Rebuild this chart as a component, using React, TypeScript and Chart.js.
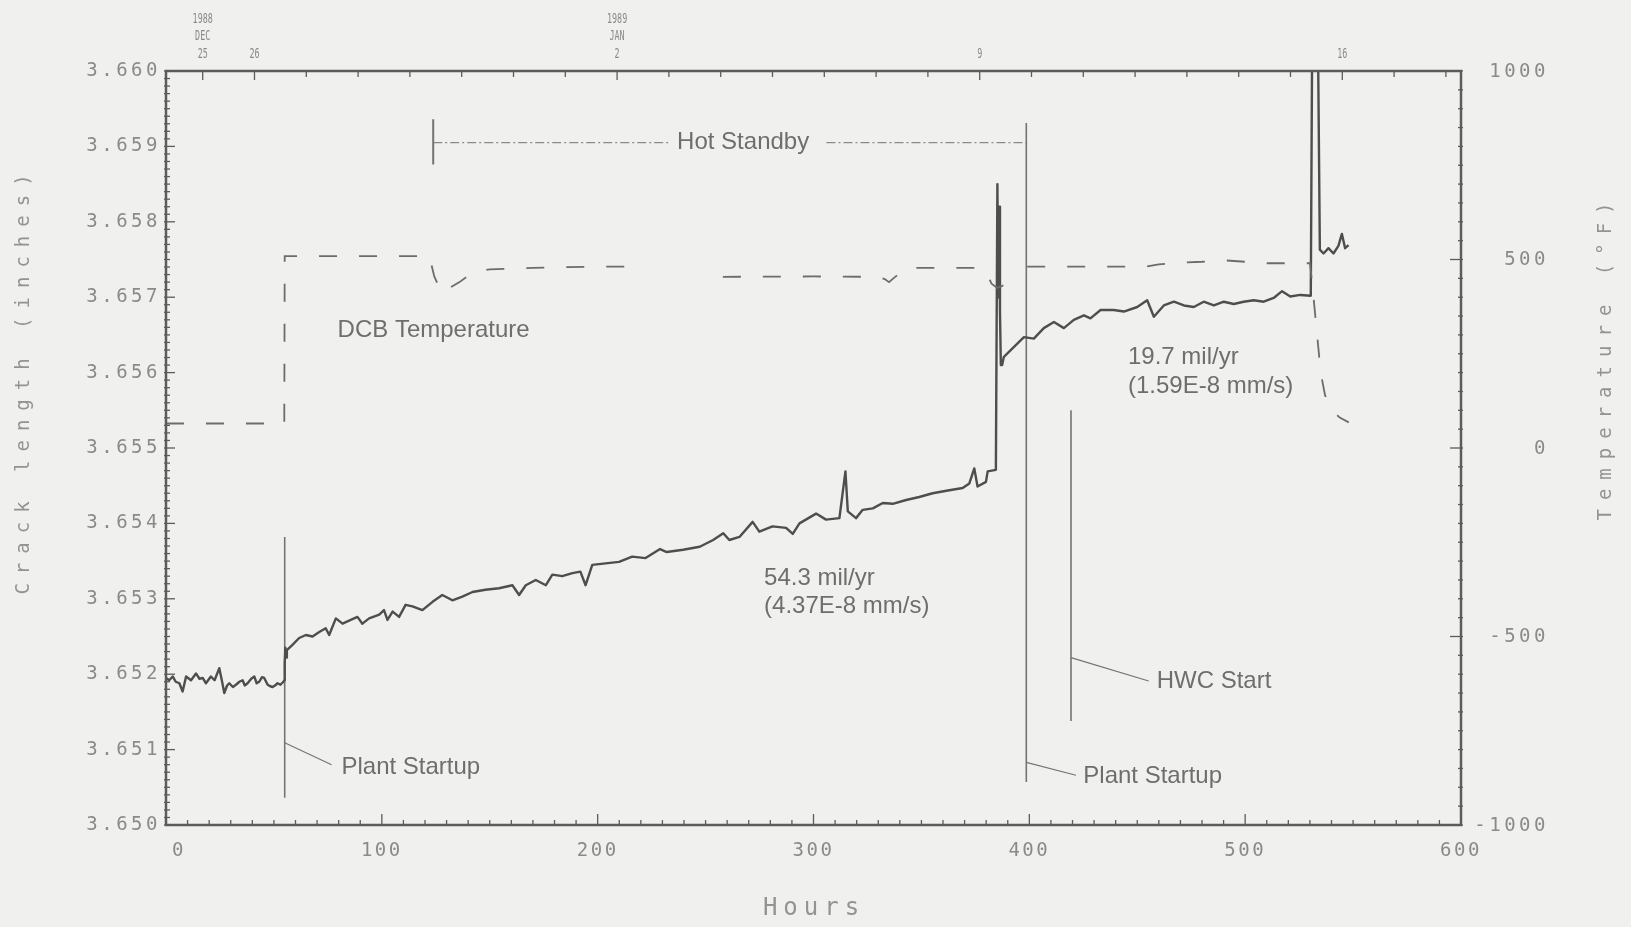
import { useEffect, useRef } from "react";
import { Chart, registerables } from "chart.js";
Chart.register(...registerables);

// ---------------- data ----------------
const crackHours = [
  0, 1.5, 3.1, 4.5, 6.2, 7.7, 9.3, 11.6, 13.9, 15.5, 17, 18.5, 20.8, 22.5, 24.7, 26, 27, 28.3, 29.3, 31,
  32.4, 34, 35.5, 36.5, 37.8, 39.5, 40.9, 42, 43.2, 44.5, 45.5, 47.1, 48.3, 49.4, 50.5, 51.7, 53, 54.4, 54.8,
  55, 55.3, 55.6, 56, 58.6, 61.7, 64.8, 67.9, 71, 74, 75.6, 78.7, 81.8, 85.6, 88.7, 91, 94.1, 98.8, 101,
  102.6, 105, 108, 111, 114.2, 118.8, 123.5, 128, 132.7, 137.3, 142, 148, 154.3, 160.5, 163.6, 166.7, 171.3,
  176, 179, 183.6, 188.3, 192, 194.4, 197.5, 203.7, 209.9, 216, 222.2, 228.9, 232, 239.6, 247.3, 253.5,
  258.2, 261, 265.7, 271.8, 274.9, 281, 287.3, 290.4, 293.5, 301.2, 305.8, 312, 314.8, 315.9, 319.7, 322.8,
  327.5, 332.1, 336.7, 342.9, 349, 355.2, 362.9, 369.1, 372.2, 374.5, 376, 379.9, 380.7, 384.5, 385.2,
  385.6, 386, 386.4, 386.8, 387.4, 388.2, 392.9, 397.5, 402.1, 406.7, 411.4, 416, 420.6, 425.3, 428.3, 433,
  439.1, 443.8, 450, 454.6, 457.7, 462.3, 467, 471.6, 476.2, 480.8, 485.5, 490.1, 494.7, 499.3, 504, 508.6,
  513.2, 517.1, 520.9, 525.5, 530.4, 531.0, 533.8, 534.6, 536.3, 538.6, 540.9, 543.2, 544.8, 546.3, 547.9,
];
const crackInches = [
  3.65195, 3.65192, 3.65197, 3.6519, 3.65188, 3.65177, 3.65197, 3.65192, 3.65201, 3.65194, 3.65195, 3.65188,
  3.65197, 3.65192, 3.65208, 3.6519, 3.65175, 3.65185, 3.65188, 3.65183, 3.65186, 3.6519, 3.65192, 3.65185,
  3.65188, 3.65194, 3.65197, 3.65188, 3.6519, 3.65196, 3.65195, 3.65186, 3.65184, 3.65183, 3.65185, 3.65188,
  3.65186, 3.6519, 3.65192,
  3.65215, 3.65235, 3.65222, 3.65232, 3.65239, 3.65248, 3.65252, 3.6525, 3.65256, 3.65261, 3.65252, 3.65274,
  3.65267, 3.65272, 3.65276, 3.65267, 3.65274, 3.65279, 3.65285, 3.65272, 3.65283, 3.65276, 3.65292, 3.6529,
  3.65285, 3.65296, 3.65305, 3.65298, 3.65303, 3.65309, 3.65312, 3.65314, 3.65318, 3.65305, 3.65318, 3.65325,
  3.65318, 3.65332, 3.6533, 3.65334, 3.65336, 3.65318, 3.65345, 3.65347, 3.65349, 3.65356, 3.65354, 3.65366,
  3.65362, 3.65365, 3.65369, 3.65378, 3.65387, 3.65378, 3.65382, 3.65402, 3.65389, 3.65396, 3.65394, 3.65386,
  3.654, 3.65413, 3.65405, 3.65407, 3.65469, 3.65416, 3.65407, 3.65418, 3.6542, 3.65427, 3.65426, 3.65431,
  3.65435, 3.6544, 3.65444, 3.65447, 3.65453, 3.65473, 3.65449, 3.65455, 3.65469, 3.65471, 3.6585, 3.657,
  3.6582, 3.6568, 3.6561, 3.6561, 3.65621, 3.65634, 3.65647, 3.65645, 3.65659, 3.65667, 3.65659, 3.6567,
  3.65676, 3.65672, 3.65683, 3.65683, 3.65681, 3.65687, 3.65696, 3.65674, 3.65689, 3.65694, 3.65689, 3.65687,
  3.65694, 3.65689, 3.65694, 3.65691, 3.65694, 3.65696, 3.65694, 3.65699, 3.65708, 3.65701, 3.65703, 3.65702,
  3.6602, 3.6602, 3.65763, 3.65758, 3.65765, 3.65758, 3.65768, 3.65784, 3.65765, 3.65769,
];

const tempHours = [
  0, 54.8, 55, 122, 124.3, 127.7, 130, 136, 142, 150, 170, 200, 218, 230, 258, 300, 330, 333, 335, 337, 343,
  378, 380, 382.5, 385, 387.5, 390, 392, 395, 399, 440, 454, 460, 470, 480, 490, 500, 510, 525, 530, 531,
  533, 535, 537, 540, 544, 548,
];
const tempDegF = [
  65, 65, 509, 509, 455, 412, 420, 440, 465, 474, 478, 481, 481, null, 454, 455, 454, 448, 440, 450, 478,
  478, 466, 436, 425, 430, 445, 454, null, 481, 481, 481, 487, 492, 494, 498, 494, 490, 490, 490, 440,
  320, 200, 140, 100, 80, 68,
];

// event marker lines (hours, inches)
const plantStartup1Hours = [55, 55];
const plantStartup1Inches = [3.65036, 3.65382];
const plantStartup1LeaderHours = [55, 76.7];
const plantStartup1LeaderInches = [3.65109, 3.6508];
const plantStartup2Hours = [398.6, 398.6];
const plantStartup2Inches = [3.65057, 3.65931];
const plantStartup2LeaderHours = [398.6, 421.6];
const plantStartup2LeaderInches = [3.65083, 3.65066];
const hwcHours = [419.3, 419.3];
const hwcInches = [3.65138, 3.6555];
const hwcLeaderHours = [419.3, 455.3];
const hwcLeaderInches = [3.65222, 3.65191];
const hotStandbyTickHours = [123.8, 123.8];
const hotStandbyTickInches = [3.65876, 3.65936];
const hotStandbyHours = [123.8, 233.7, 250, 306, 398.6];
const hotStandbyInches = [3.65905, 3.65905, null, 3.65905, 3.65905];

// annotation texts
const noteTexts = [
  "DCB Temperature", "Plant Startup", "Plant Startup", "HWC Start", "Hot Standby",
  "54.3 mil/yr", "(4.37E-8 mm/s)", "19.7 mil/yr", "(1.59E-8 mm/s)",
];
const noteHours = [79.5, 81.3, 425, 459, 267.4, 277.1, 277.1, 445.7, 445.7];
const noteInches = [3.65656, 3.65077, 3.65064, 3.65191, 3.65905, 3.65327, 3.6529, 3.6562, 3.65582];
const noteAlign = ["left", "left", "left", "left", "center", "left", "left", "left", "left"];

// axes ticks / labels
const leftTickValues = [3.65, 3.651, 3.652, 3.653, 3.654, 3.655, 3.656, 3.657, 3.658, 3.659, 3.66];
const leftTickLabels = ["3.650", "3.651", "3.652", "3.653", "3.654", "3.655", "3.656", "3.657", "3.658", "3.659", "3.660"];
const rightTickValues = [-1000, -500, 0, 500, 1000];
const rightTickLabels = ["-1000", "-500", "0", "500", "1000"];
const bottomTickValues = [0, 100, 200, 300, 400, 500, 600];
const bottomTickLabels = ["0", "100", "200", "300", "400", "500", "600"];
const topDayHours = [17, 41, 65, 89, 113, 137, 161, 185, 209, 233, 257, 281, 305, 329, 353, 377, 401, 425, 449, 473, 497, 521, 545, 569, 593];
const topLabelHours = [17, 41, 209, 377, 545];
const topLabelLines = [["1988", "DEC", "25"], ["26"], ["1989", "JAN", "2"], ["9"], ["16"]];

const xTitle = "Hours";
const yTitle = "Crack length (inches)";
const y2Title = "Temperature (°F)";

// ---------------- styles ----------------
const BG = "#f0f0ee";
const AXIS = "#5c5c5c";
const LABEL = "#8a8a8a";
const NOTE = "#6e6e6e";
const MONO = '"DejaVu Sans Mono", monospace';
const SANS = '"Liberation Sans", Arial, sans-serif';

const pts = (xs: number[], ys: (number | null)[]) => xs.map((x, i) => ({ x, y: ys[i] }));

const markerDs = (xs: number[], ys: (number | null)[], extra: any = {}) => ({
  data: pts(xs, ys),
  yAxisID: "y",
  xAxisID: "x",
  showLine: true,
  pointRadius: 0,
  borderColor: "#747474",
  borderWidth: 1.6,
  spanGaps: false,
  ...extra,
});

const decorPlugin = {
  id: "decor",
  beforeDraw(chart: any) {
    const { ctx, width, height } = chart;
    ctx.save();
    ctx.fillStyle = BG;
    ctx.fillRect(0, 0, width, height);
    ctx.restore();
  },
  afterDraw(chart: any) {
    const { ctx, chartArea: a, scales } = chart;
    const sx = scales.x, sy = scales.y, sy2 = scales.y2;
    ctx.save();

    // notes
    ctx.fillStyle = NOTE;
    ctx.font = `24px ${SANS}`;
    ctx.textBaseline = "middle";
    noteTexts.forEach((t, i) => {
      ctx.textAlign = noteAlign[i];
      ctx.fillText(t, sx.getPixelForValue(noteHours[i]), sy.getPixelForValue(noteInches[i]));
    });

    // frame
    ctx.strokeStyle = AXIS;
    ctx.lineWidth = 2.5;
    ctx.strokeRect(a.left, a.top, a.right - a.left, a.bottom - a.top);

    const line = (x1: number, y1: number, x2: number, y2: number) => {
      ctx.beginPath();
      ctx.moveTo(x1, y1);
      ctx.lineTo(x2, y2);
      ctx.stroke();
    };

    // left ticks (minor every 0.0001, major every 0.001)
    ctx.lineWidth = 1.3;
    for (let k = 0; k <= 100; k++) {
      const py = sy.getPixelForValue(3.65 + k * 0.0001);
      line(a.left - 2, py, a.left + (k % 10 === 0 ? 9 : 4), py);
    }
    // right ticks
    for (let k = 0; k <= 40; k++) {
      const py = sy2.getPixelForValue(-1000 + k * 50);
      line(a.right + 2, py, a.right - (k % 10 === 0 ? 11 : 3), py);
    }
    // bottom ticks
    for (let k = 0; k <= 60; k++) {
      const px = sx.getPixelForValue(k * 10);
      line(px, a.bottom + 1, px, a.bottom - (k % 10 === 0 ? 11 : 5));
    }
    // top ticks
    topDayHours.forEach((h) => {
      const px = sx.getPixelForValue(h);
      const major = topLabelHours.includes(h);
      line(px, a.top - 1, px, a.top + (major ? 9 : 6));
    });

    // tick labels
    ctx.fillStyle = LABEL;
    ctx.textBaseline = "middle";
    ctx.font = `19px ${MONO}`;
    (ctx as any).letterSpacing = "3.5px";
    ctx.textAlign = "right";
    leftTickValues.forEach((v, i) => {
      ctx.fillText(leftTickLabels[i], 161, sy.getPixelForValue(v));
    });
    rightTickValues.forEach((v, i) => {
      ctx.fillText(rightTickLabels[i], 1549, sy2.getPixelForValue(v) + 1);
    });
    (ctx as any).letterSpacing = "2.5px";
    ctx.textAlign = "center";
    bottomTickValues.forEach((v, i) => {
      const off = v === 0 ? 13 : 0;
      ctx.fillText(bottomTickLabels[i], sx.getPixelForValue(v) + off, 851);
    });

    // top labels (condensed)
    (ctx as any).letterSpacing = "0px";
    ctx.font = `14px ${MONO}`;
    const rowY = [19, 36.5, 54];
    topLabelHours.forEach((h, i) => {
      const lines = topLabelLines[i];
      const px = sx.getPixelForValue(h);
      lines.forEach((t, j) => {
        const ry = rowY[rowY.length - lines.length + j];
        ctx.save();
        ctx.translate(px, ry);
        ctx.scale(0.6, 1);
        ctx.fillText(t, 0, 0);
        ctx.restore();
      });
    });

    // titles
    ctx.fillStyle = "#939393";
    ctx.font = `19px ${MONO}`;
    (ctx as any).letterSpacing = "9px";
    ctx.textAlign = "center";
    ctx.save();
    ctx.translate(24, 380);
    ctx.rotate(-Math.PI / 2);
    ctx.fillText(yTitle, 0, 0);
    ctx.restore();
    ctx.save();
    ctx.translate(1606, 357);
    ctx.rotate(-Math.PI / 2);
    ctx.fillText(y2Title, 0, 0);
    ctx.restore();
    ctx.font = `24px ${MONO}`;
    (ctx as any).letterSpacing = "6px";
    ctx.fillText(xTitle, 814, 909);
    (ctx as any).letterSpacing = "0px";
    ctx.restore();
  },
};

export default function App() {
  const ref = useRef<HTMLCanvasElement | null>(null);
  useEffect(() => {
    if (!ref.current) return;
    const chart = new Chart(ref.current, {
      type: "scatter",
      data: {
        datasets: [
          {
            data: pts(tempHours, tempDegF),
            yAxisID: "y2",
            xAxisID: "x",
            showLine: true,
            pointRadius: 0,
            borderColor: "#6c6c6c",
            borderWidth: 1.8,
            borderDash: [18, 22],
            spanGaps: false,
          },
          {
            data: pts(crackHours, crackInches),
            yAxisID: "y",
            xAxisID: "x",
            showLine: true,
            pointRadius: 0,
            borderColor: "#4e4e4e",
            borderWidth: 2.4,
            borderJoinStyle: "round",
          },
          markerDs(plantStartup1Hours, plantStartup1Inches),
          markerDs(plantStartup1LeaderHours, plantStartup1LeaderInches, { borderWidth: 1.2 }),
          markerDs(plantStartup2Hours, plantStartup2Inches),
          markerDs(plantStartup2LeaderHours, plantStartup2LeaderInches, { borderWidth: 1.2 }),
          markerDs(hwcHours, hwcInches),
          markerDs(hwcLeaderHours, hwcLeaderInches, { borderWidth: 1.2 }),
          markerDs(hotStandbyTickHours, hotStandbyTickInches, { borderWidth: 2 }),
          markerDs(hotStandbyHours, hotStandbyInches, { borderWidth: 1.1, borderDash: [9, 3, 2, 3], borderColor: "#8a8a8a" }),
        ] as any,
      },
      options: {
        animation: false,
        responsive: false,
        devicePixelRatio: 1,
        layout: { padding: 0 },
        plugins: { legend: { display: false }, tooltip: { enabled: false } },
        scales: {
          x: {
            type: "linear", position: "bottom", min: 0, max: 600,
            ticks: { display: false }, grid: { display: false }, border: { display: false },
            afterFit: (s: any) => { s.height = 102; },
          },
          x2: {
            type: "linear", position: "top", min: 0, max: 600,
            ticks: { display: false }, grid: { display: false }, border: { display: false },
            afterFit: (s: any) => { s.height = 71; },
          },
          y: {
            type: "linear", position: "left", min: 3.65, max: 3.66,
            ticks: { display: false }, grid: { display: false }, border: { display: false },
            afterFit: (s: any) => { s.width = 166; },
          },
          y2: {
            type: "linear", position: "right", min: -1000, max: 1000,
            ticks: { display: false }, grid: { display: false }, border: { display: false },
            afterFit: (s: any) => { s.width = 170; },
          },
        },
      } as any,
      plugins: [decorPlugin],
    });
    return () => chart.destroy();
  }, []);
  return (
    <div style={{ position: "fixed", left: 0, top: 0, width: 1631, height: 927, background: BG }}>
      <canvas ref={ref} width={1631} height={927} style={{ display: "block" }} />
    </div>
  );
}
